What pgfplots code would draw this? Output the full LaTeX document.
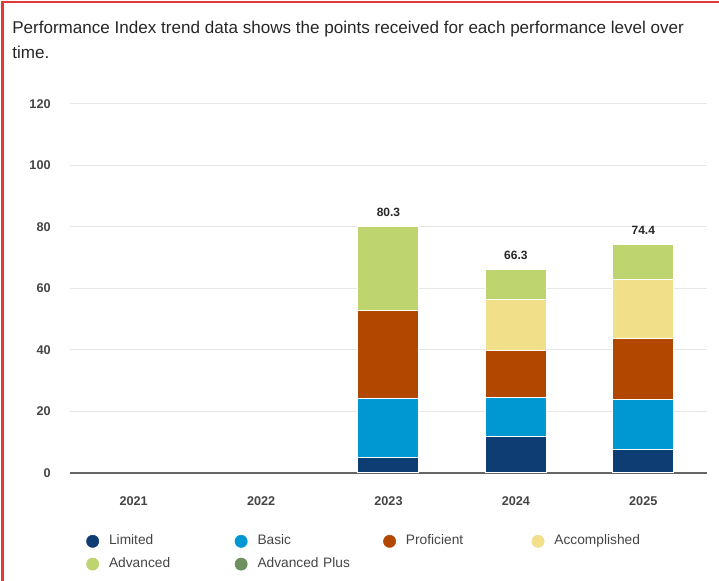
\documentclass[border=0pt]{standalone}
\usepackage{pgfplots}
\pgfplotsset{compat=1.18}
\usepackage{fontspec}
\setmainfont{Liberation Sans}
\definecolor{cLim}{HTML}{0E3D73}
\definecolor{cBas}{HTML}{0098D3}
\definecolor{cPro}{HTML}{B24700}
\definecolor{cAcc}{HTML}{F2DF8A}
\definecolor{cAdv}{HTML}{BDD46F}
\definecolor{cAdvP}{HTML}{6E9060}
\definecolor{cRed}{HTML}{E03A3A}
\definecolor{cTxt}{HTML}{444444}
\definecolor{cGrid}{HTML}{E6E6E6}
\begin{document}
\begin{tikzpicture}
% page frame: 719 x 581 px = 539.25pt x 435.75pt
\path[use as bounding box] (0pt,0pt) rectangle (539.25pt,435.75pt);
\draw[cRed,line width=1.5pt] (1.875pt,0pt) -- (1.875pt,433.9pt) -- (539.25pt,433.9pt);
\node[anchor=north west,inner sep=0pt,align=left,font=\fontsize{12.8}{18.75}\selectfont,text=black!85] at (9pt,419.75pt)
  {Performance Index trend data shows the points received for each performance level over\\time.};
\begin{axis}[
  at={(52.5pt,81pt)}, anchor=south west,
  width=477.75pt, height=276.75pt, scale only axis,
  xmin=-0.5, xmax=4.5, ymin=0, ymax=120,
  ybar stacked, bar width=45.75pt,
  axis x line*=bottom, axis y line*=left,
  y axis line style={draw=none},
  x axis line style={draw=black!60, line width=0.9pt},
  xtick={0,1,2,3,4}, xticklabels={2021,2022,2023,2024,2025},
  ytick={0,20,40,60,80,100,120},
  ymajorgrids, grid style={cGrid, line width=0.75pt},
  major tick length=0pt,
  tick label style={font=\fontsize{9.5}{11}\selectfont\bfseries, text=cTxt},
  xticklabel style={yshift=-14pt},
  yticklabel style={xshift=-11pt},
  /pgf/number format/assume math mode=true,
  legend style={at={(axis description cs:0,0)}, anchor=north west,
    xshift=12pt, yshift=-46.25pt, draw=none, fill=none, inner sep=0pt,
    font=\fontsize{10.3}{12}\selectfont, text=cTxt,
    nodes={text width=87.25pt, text height=7.5pt, text depth=2pt, inner sep=0pt, anchor=west},
    /tikz/every odd column/.append style={column sep=7.5pt},
    /tikz/every even column/.append style={column sep=7pt},
    row sep=7.5pt},
  legend columns=4,
  legend cell align=left,
]
\addplot+[forget plot, fill=cLim, draw=white, line width=0.75pt] coordinates {(2,5.0) (3,12.0) (4,7.8)};
\addplot+[forget plot, fill=cBas, draw=white, line width=0.75pt] coordinates {(2,19.1) (3,12.7) (4,16.2)};
\addplot+[forget plot, fill=cPro, draw=white, line width=0.75pt] coordinates {(2,28.9) (3,15.0) (4,19.8)};
\addplot+[forget plot, fill=cAcc, draw=white, line width=0.75pt] coordinates {(2,0) (3,16.6) (4,19.1)};
% top segment; its label is the bar total, lifted from the segment middle to above the bar
\addplot+[forget plot, fill=cAdv, draw=white, line width=0.75pt,
  point meta=explicit, visualization depends on=rawy\as\segh,
  nodes near coords={\pgfmathprintnumber[fixed,fixed zerofill,precision=1]{\pgfplotspointmeta}},
  every node near coord/.append style={font=\fontsize{9}{10}\selectfont\bfseries, text=black!85, anchor=south, yshift=\segh*1.153125pt+3.5pt}]
  coordinates {(2,27.3) [80.3] (3,10.0) [66.3] (4,11.5) [74.4]};
\addlegendimage{legend image code/.code={\fill[cLim] (0pt,0pt) circle (4.6pt);}}
\addlegendentry{Limited}
\addlegendimage{legend image code/.code={\fill[cBas] (0pt,0pt) circle (4.6pt);}}
\addlegendentry{Basic}
\addlegendimage{legend image code/.code={\fill[cPro] (0pt,0pt) circle (4.6pt);}}
\addlegendentry{Proficient}
\addlegendimage{legend image code/.code={\fill[cAcc] (0pt,0pt) circle (4.6pt);}}
\addlegendentry{Accomplished}
\addlegendimage{legend image code/.code={\fill[cAdv] (0pt,0pt) circle (4.6pt);}}
\addlegendentry{Advanced}
\addlegendimage{legend image code/.code={\fill[cAdvP] (0pt,0pt) circle (4.6pt);}}
\addlegendentry{Advanced Plus}
\end{axis}
\end{tikzpicture}
\end{document}
